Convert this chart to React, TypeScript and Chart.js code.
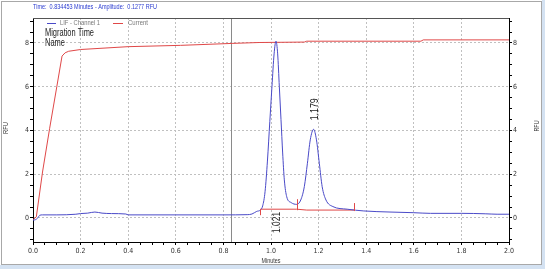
import React, { useEffect, useRef } from "react";
import { Chart, registerables } from "chart.js";

Chart.register(...registerables);

// ---- data ----
const LIF_T = [0.0, 0.01, 0.02, 0.028, 0.04, 0.1, 0.18, 0.2, 0.23, 0.26, 0.29, 0.33, 0.39, 0.4, 0.6, 0.8, 0.9, 0.92, 0.94, 0.955, 0.965, 0.975, 0.985, 0.995, 1.004, 1.013, 1.021, 1.028, 1.035, 1.042, 1.049, 1.056, 1.066, 1.085, 1.108, 1.125, 1.14, 1.153, 1.165, 1.179, 1.191, 1.203, 1.215, 1.231, 1.26, 1.32, 1.39, 1.5, 1.6, 1.67, 1.8, 1.9, 1.95, 2.0];
const LIF_V = [-0.1, -0.08, 0.0, 0.12, 0.14, 0.14, 0.17, 0.2, 0.22, 0.27, 0.22, 0.2, 0.18, 0.14, 0.14, 0.14, 0.15, 0.18, 0.3, 0.36, 0.55, 1.2, 2.6, 4.4, 6.0, 7.5, 8.08, 7.5, 6.0, 4.5, 2.97, 1.74, 0.97, 0.7, 0.62, 0.82, 1.43, 2.5, 3.57, 4.05, 3.57, 2.5, 1.43, 0.82, 0.52, 0.4, 0.32, 0.27, 0.24, 0.21, 0.21, 0.19, 0.17, 0.17];

const CUR_T = [0.0, 0.014, 0.04, 0.07, 0.1, 0.122, 0.135, 0.15, 0.2, 0.4, 0.62, 0.84, 0.95, 1.14, 1.15, 1.63, 1.64, 2.0];
const CUR_V = [-0.08, 0.05, 2.1, 4.1, 6.0, 7.4, 7.55, 7.62, 7.7, 7.83, 7.89, 7.98, 8.02, 8.04, 8.08, 8.08, 8.14, 8.14];

const BASE_T = [0.955, 1.108, 1.15, 1.35];
const BASE_V = [0.4, 0.4, 0.36, 0.36];
const BASE_TICK_T = [0.955, 1.108, 1.35];

const PEAK_T = [1.021, 1.179];
const PEAK_V = [8.08, 4.05];
const PEAK_LABELS = ["1.021", "1.179"];

const CURSOR_T = 0.834;
const Y_LABELS = [0, 2, 4, 6, 8];
const X_MAJOR = 0.2;

const TOP_TEXT = "Time:  0.834453 Minutes - Amplitude:  0.1277 RFU";
const SERIES_NAMES = ["LIF - Channel 1", "Current"];
const INFO_LINES = ["Migration Time", "Name"];

const BLUE = "#4a4ac8";
const RED = "#e04848";
const FONT = "Liberation Sans, Arial, sans-serif";
const NARROW = "'Liberation Sans Narrow', 'DejaVu Sans Condensed', 'Liberation Sans', Arial, sans-serif";

function fitText(ctx: CanvasRenderingContext2D, text: string, x: number, y: number, width: number, font: string, color: string, align: CanvasTextAlign = "left", rot = 0) {
  ctx.save();
  ctx.font = font;
  const w = ctx.measureText(text).width;
  const s = width / w;
  ctx.translate(x, y);
  if (rot) ctx.rotate(rot);
  ctx.scale(s, 1);
  ctx.fillStyle = color;
  ctx.textAlign = align;
  ctx.textBaseline = "middle";
  ctx.fillText(text, 0, 0);
  ctx.restore();
}

const isMajorX = (v: number) => Math.abs(v / X_MAJOR - Math.round(v / X_MAJOR)) < 1e-6;
const isMajorY = (v: number) => Y_LABELS.some((l) => Math.abs(l - v) < 1e-6);

const overlay = {
  id: "overlay",
  beforeDraw(chart: any) {
    const ctx = chart.ctx as CanvasRenderingContext2D;
    ctx.save();
    ctx.fillStyle = "#d4e2f2";
    ctx.fillRect(0, 0, 545, 269);
    ctx.fillStyle = "#ffffff";
    ctx.fillRect(0, 0, 542, 265);
    ctx.strokeStyle = "#a8a8a8";
    ctx.lineWidth = 1;
    ctx.strokeRect(1.5, 1.5, 540, 263);
    ctx.restore();
  },
  beforeDatasetsDraw(chart: any) {
    const ctx = chart.ctx as CanvasRenderingContext2D;
    const { top, bottom } = chart.chartArea;
    const x = Math.round(chart.scales.x.getPixelForValue(CURSOR_T)) + 0.5;
    ctx.save();
    ctx.strokeStyle = "#8a8a8a";
    ctx.lineWidth = 1;
    ctx.beginPath();
    ctx.moveTo(x, top);
    ctx.lineTo(x, bottom);
    ctx.stroke();
    ctx.restore();
  },
  afterDatasetsDraw(chart: any) {
    const ctx = chart.ctx as CanvasRenderingContext2D;
    const xs = chart.scales.x;
    const ys = chart.scales.y;
    const { left, right, top } = chart.chartArea;

    // plot top border
    ctx.save();
    ctx.strokeStyle = "#555";
    ctx.lineWidth = 1;
    ctx.beginPath();
    ctx.moveTo(left, top + 0.5);
    ctx.lineTo(right, top + 0.5);
    ctx.stroke();

    // baseline tick marks
    ctx.strokeStyle = RED;
    BASE_TICK_T.forEach((t, i) => {
      let v = BASE_V[0];
      for (let k = 0; k < BASE_T.length - 1; k++) {
        if (t >= BASE_T[k] && t <= BASE_T[k + 1]) {
          const f = (t - BASE_T[k]) / (BASE_T[k + 1] - BASE_T[k]);
          v = BASE_V[k] + f * (BASE_V[k + 1] - BASE_V[k]);
        }
      }
      const px = Math.round(xs.getPixelForValue(t)) + 0.5;
      const py = ys.getPixelForValue(v);
      ctx.beginPath();
      if (i === 0) {
        ctx.moveTo(px, py);
        ctx.lineTo(px, py + 6);
      } else {
        ctx.moveTo(px, py + 1);
        ctx.lineTo(px, py - (i === 1 ? 10 : 7));
      }
      ctx.stroke();
    });

    // legend
    const ly = 23.5;
    ctx.lineWidth = 1;
    ctx.strokeStyle = BLUE;
    ctx.beginPath();
    ctx.moveTo(47, ly);
    ctx.lineTo(56, ly);
    ctx.stroke();
    ctx.strokeStyle = RED;
    ctx.beginPath();
    ctx.moveTo(113, ly);
    ctx.lineTo(123, ly);
    ctx.stroke();
    ctx.restore();

    fitText(ctx, SERIES_NAMES[0], 60, ly, 40, `7px ${FONT}`, "#777");
    fitText(ctx, SERIES_NAMES[1], 128, ly, 20, `7px ${FONT}`, "#777");

    fitText(ctx, INFO_LINES[0], 45, 33, 49, `10px ${FONT}`, "#222");
    fitText(ctx, INFO_LINES[1], 45, 43.5, 20, `10px ${FONT}`, "#222");

    // peak labels
    PEAK_T.forEach((t, i) => {
      const px = xs.getPixelForValue(t);
      if (i === 0) {
        const py = ys.getPixelForValue(0) + 4.5;
        fitText(ctx, PEAK_LABELS[i], px + 1, py, 21, `10px ${FONT}`, "#222", "center", -Math.PI / 2);
      } else {
        const py = ys.getPixelForValue(PEAK_V[i]) - 20;
        fitText(ctx, PEAK_LABELS[i], px + 1.5, py, 22, `10px ${FONT}`, "#222", "center", -Math.PI / 2);
      }
    });

    // top info and axis titles
    fitText(ctx, TOP_TEXT, 33, 7.5, 124, `7px ${FONT}`, "#2a3bd0");
    fitText(ctx, "Minutes", 271, 261, 19, `7px ${FONT}`, "#333", "center");
    fitText(ctx, "RFU", 6, 128, 12, `7px ${FONT}`, "#333", "center", -Math.PI / 2);
    fitText(ctx, "RFU", 537, 126, 11, `7px ${FONT}`, "#333", "center", -Math.PI / 2);
  },
};

export default function App() {
  const ref = useRef<HTMLCanvasElement>(null);
  useEffect(() => {
    if (!ref.current) return;
    const lif = LIF_T.map((t, i) => ({ x: t, y: LIF_V[i] }));
    const cur = CUR_T.map((t, i) => ({ x: t, y: CUR_V[i] }));
    const base = BASE_T.map((t, i) => ({ x: t, y: BASE_V[i] }));
    const tickFont = { family: NARROW, size: 7 };
    const yCommon = {
      type: "linear" as const,
      min: -1.1,
      max: 9.14,
      ticks: {
        stepSize: 0.5,
        includeBounds: false,
        autoSkip: false,
        maxTicksLimit: 1000,
        color: "#333",
        font: tickFont,
        padding: 1,
        callback: (v: any) => (isMajorY(Number(v)) ? String(Math.round(Number(v))) : ""),
      },
      border: { display: true, color: "#000", width: 1, dash: [2, 2] },
    };
    const chart = new Chart(ref.current, {
      type: "line",
      data: {
        datasets: [
          { label: SERIES_NAMES[0], data: lif, borderColor: BLUE, borderWidth: 1, pointRadius: 0, cubicInterpolationMode: "monotone", yAxisID: "y" },
          { label: SERIES_NAMES[1], data: cur, borderColor: RED, borderWidth: 1, pointRadius: 0, tension: 0, yAxisID: "y2" },
          { label: "baseline", data: base, borderColor: RED, borderWidth: 1, pointRadius: 0, tension: 0, yAxisID: "y" },
        ],
      },
      options: {
        responsive: false,
        animation: false,
        devicePixelRatio: 1,
        layout: { padding: { top: 18, left: 0, right: 0, bottom: 0 } },
        plugins: { legend: { display: false }, tooltip: { enabled: false } },
        events: [],
        scales: {
          x: {
            type: "linear",
            min: 0,
            max: 2,
            afterFit: (s: any) => { s.height = 27; },
            ticks: {
              stepSize: 0.05,
              autoSkip: false,
              maxRotation: 0,
              maxTicksLimit: 1000,
              color: "#333",
              font: tickFont,
              padding: 2,
              callback: (v: any) => (isMajorX(Number(v)) ? Number(v).toFixed(1) : ""),
            },
            grid: {
              color: (c: any) => (c.tick && isMajorX(c.tick.value) ? "#c0c0c0" : "rgba(0,0,0,0)"),
              tickColor: "#000",
              tickLength: 3,
              lineWidth: 1,
            },
            border: { display: true, color: "#000", width: 1, dash: [2, 2] },
          },
          y: {
            ...yCommon,
            position: "left",
            afterFit: (s: any) => { s.width = 33; },
            grid: {
              color: (c: any) => (c.tick && isMajorY(c.tick.value) ? "#c0c0c0" : "rgba(0,0,0,0)"),
              tickColor: "#000",
              tickLength: 3,
              lineWidth: 1,
            },
          },
          y2: {
            ...yCommon,
            position: "right",
            afterFit: (s: any) => { s.width = 36; },
            grid: { drawOnChartArea: false, tickColor: "#000", tickLength: 3, lineWidth: 1 },
          },
        },
      } as any,
      plugins: [overlay],
    });
    return () => chart.destroy();
  }, []);
  return (
    <div style={{ position: "fixed", left: 0, top: 0, width: 545, height: 269, background: "#fff" }}>
      <canvas ref={ref} width={545} height={269} style={{ display: "block", width: 545, height: 269 }} />
    </div>
  );
}
